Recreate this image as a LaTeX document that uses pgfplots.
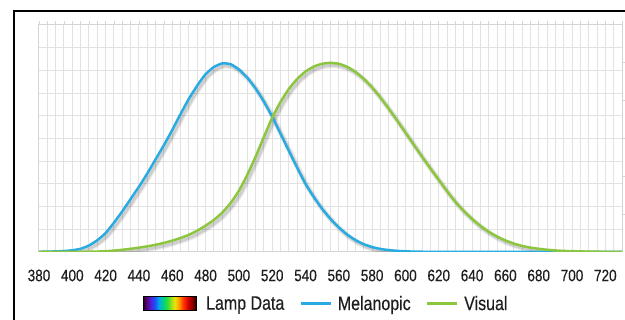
\documentclass[border=0pt]{standalone}
\usepackage{fontspec}
\setmainfont[FakeStretch=0.82,FakeBold=0.35]{Liberation Sans}
\usepackage{pgfplots}
\usepackage{pgfplotstable}
\pgfplotsset{compat=1.18}

\definecolor{mel}{RGB}{41,171,226}
\definecolor{vis}{RGB}{140,198,63}
\definecolor{gridc}{RGB}{226,226,226}
\definecolor{axc}{RGB}{212,212,212}
\definecolor{txt}{RGB}{30,30,30}

\definecolor{sp0}{RGB}{30,0,30}
\definecolor{sp1}{RGB}{90,0,120}
\definecolor{sp2}{RGB}{80,30,210}
\definecolor{sp3}{RGB}{30,80,255}
\definecolor{sp4}{RGB}{0,170,230}
\definecolor{sp5}{RGB}{0,210,130}
\definecolor{sp6}{RGB}{50,225,50}
\definecolor{sp7}{RGB}{170,225,30}
\definecolor{sp8}{RGB}{240,225,0}
\definecolor{sp9}{RGB}{255,150,0}
\definecolor{sp10}{RGB}{255,50,0}
\definecolor{sp11}{RGB}{220,0,0}
\definecolor{sp12}{RGB}{140,0,0}
\definecolor{sp13}{RGB}{50,0,0}
\pgfdeclarehorizontalshading{spectrum}{100bp}{color(0bp)=(sp0); color(25bp)=(sp0); color(28bp)=(sp1); color(32bp)=(sp2); color(36bp)=(sp3); color(40bp)=(sp4); color(44bp)=(sp5); color(48bp)=(sp6); color(52bp)=(sp7); color(55bp)=(sp8); color(59bp)=(sp9); color(63bp)=(sp10); color(67bp)=(sp11); color(71bp)=(sp12); color(75bp)=(sp13); color(100bp)=(sp13)}

\pgfplotstableread{
x y
380 0.001
385 0.002
390 0.003
395 0.005
400 0.009
405 0.017
410 0.034
415 0.062
420 0.100
425 0.155
430 0.215
435 0.280
440 0.345
445 0.415
450 0.490
455 0.565
460 0.645
465 0.730
470 0.810
475 0.880
480 0.940
485 0.978
490 0.997
495 0.993
500 0.965
505 0.922
510 0.865
515 0.795
520 0.715
525 0.625
530 0.535
535 0.445
540 0.360
545 0.290
550 0.228
555 0.175
560 0.130
565 0.092
570 0.063
575 0.041
580 0.026
585 0.016
590 0.010
595 0.006
600 0.0035
605 0.002
610 0.0013
615 0.0008
620 0.0005
625 0.0003
630 0.0002
640 0.0001
660 0.0
700 0.0
730 0.0
}\melanopic

\pgfplotstableread{
x y
380 0.000039
385 0.000064
390 0.00012
395 0.000217
400 0.000396
405 0.00064
410 0.00121
415 0.00218
420 0.0040
425 0.0073
430 0.0116
435 0.01684
440 0.0230
445 0.0298
450 0.0380
455 0.0480
460 0.0600
465 0.0739
470 0.09098
475 0.1126
480 0.13902
485 0.1693
490 0.20802
495 0.2586
500 0.3230
505 0.4073
510 0.5030
515 0.6082
520 0.7100
525 0.7932
530 0.8620
535 0.91485
540 0.9540
545 0.9803
550 0.99495
555 1.0000
560 0.9950
565 0.9786
570 0.9520
575 0.9154
580 0.8700
585 0.8163
590 0.7570
595 0.6949
600 0.6310
605 0.5668
610 0.5030
615 0.4412
620 0.3810
625 0.3210
630 0.2650
635 0.2170
640 0.1750
645 0.1382
650 0.1070
655 0.0816
660 0.0610
665 0.04458
670 0.0320
675 0.0232
680 0.0170
685 0.01192
690 0.00821
695 0.005723
700 0.004102
705 0.002929
710 0.002091
715 0.001484
720 0.001047
725 0.00074
730 0.00052
}\visual

\begin{document}
\begin{tikzpicture}[x=1pt,y=1pt]
\useasboundingbox (0,0) rectangle (625,320);
\draw[line width=2pt, black] (14,-10) rectangle (660,308.5);

\begin{axis}[
  at={(39pt,68pt)}, anchor=south west,
  scale only axis, width=583pt, height=227pt,
  xmin=380, xmax=730, ymin=0, ymax=1.2,
  axis line style={draw=axc, line width=1pt},
  xtick={380,400,...,720},
  minor xtick={380,385,...,730},
  xtick pos=upper, xticklabel pos=lower,
  tick align=outside,
  major tick length=3.5pt, minor tick length=3.5pt,
  xtick style={draw=axc, line width=0.8pt},
  ytick={0,0.12,0.24,0.36,0.48,0.6,0.72,0.84,0.96,1.08,1.2},
  yticklabels={},
  ytick style={draw=none},
  xmajorgrids, xminorgrids, ymajorgrids,
  major grid style={draw=gridc, line width=1pt},
  minor grid style={draw=gridc, line width=1pt},
  /pgf/number format/assume math mode=true,
  xticklabel style={font=\fontsize{16.5}{18}\selectfont, text=txt, anchor=center, yshift=-20pt},
  legend columns=-1,
  legend image code/.code={\draw[#1] (0pt,0pt) -- (30pt,0pt);},
  legend style={draw=none, fill=none, at={(0.4906,-0.228)}, anchor=center,
    font=\fontsize{19.5}{22}\selectfont, text=txt,
    nodes={inner sep=0pt},
    /tikz/every even column/.append style={column sep=15pt},
    /tikz/every odd column/.append style={column sep=6pt}},
  legend cell align=left,
]
\addlegendimage{legend image code/.code={
  \path[draw=none,fill=none] (0pt,0pt) rectangle (57pt,0.1pt);
  \shade[shading=spectrum, draw=none] (0pt,-7pt) rectangle (53pt,7pt);
  \draw[black, line width=1.2pt] (0pt,-7pt) rectangle (53pt,7pt);}}
\addlegendentry{Lamp Data}

% shadows
\addplot[forget plot, black, opacity=0.08, line width=5.5pt, line join=round, smooth, tension=0.3, transform canvas={xshift=2pt,yshift=-2.5pt}] table[x=x,y=y] {\melanopic};
\addplot[forget plot, black, opacity=0.12, line width=3pt, line join=round, smooth, tension=0.3, transform canvas={xshift=2pt,yshift=-2.5pt}] table[x=x,y=y] {\melanopic};
\addplot[forget plot, black, opacity=0.08, line width=5.5pt, line join=round, smooth, tension=0.3, transform canvas={xshift=2pt,yshift=-2.5pt}] table[x=x,y=y] {\visual};
\addplot[forget plot, black, opacity=0.12, line width=3pt, line join=round, smooth, tension=0.3, transform canvas={xshift=2pt,yshift=-2.5pt}] table[x=x,y=y] {\visual};

\addplot[mel, line width=2.5pt, line join=round, smooth, tension=0.3] table[x=x,y=y] {\melanopic};
\addlegendentry{Melanopic}
\addplot[vis, line width=2.5pt, line join=round, smooth, tension=0.3] table[x=x,y=y] {\visual};
\addlegendentry{Visual}
\end{axis}

\begin{axis}[
  at={(39pt,68pt)}, anchor=south west,
  scale only axis, width=583pt, height=227pt,
  xmin=380, xmax=730, ymin=0, ymax=1.2,
  axis line style={draw=none},
  xtick=\empty,
  ytick={0.2,0.4,0.6,0.8,1.0},
  yticklabels={},
  ytick pos=right,
  tick align=outside,
  major tick length=4pt,
  ytick style={draw=axc, line width=0.8pt},
]
\end{axis}
\end{tikzpicture}
\end{document}
